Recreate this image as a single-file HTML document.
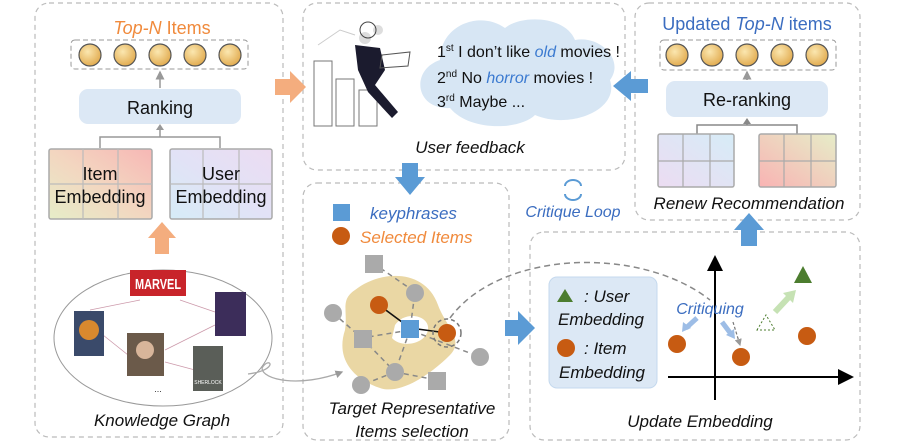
<!DOCTYPE html>
<html><head><meta charset="utf-8"><style>
html,body{margin:0;padding:0;background:#fff;width:897px;height:444px;overflow:hidden}
svg{display:block}
text{font-family:"Liberation Sans","DejaVu Sans",sans-serif}
.it{font-style:italic}
</style></head><body>
<svg width="897" height="444" viewBox="0 0 897 444" xmlns="http://www.w3.org/2000/svg">
<defs>
<radialGradient id="gold" cx="40%" cy="35%" r="70%"><stop offset="0" stop-color="#fbe7b0"/><stop offset="1" stop-color="#e0a84a"/></radialGradient>
<linearGradient id="gItem" x1="0" y1="1" x2="1" y2="0"><stop offset="0" stop-color="#e6edc8"/><stop offset="0.5" stop-color="#f3d6c0"/><stop offset="1" stop-color="#f7b7b5"/></linearGradient>
<linearGradient id="gUser" x1="0" y1="1" x2="1" y2="0"><stop offset="0" stop-color="#d6ecf7"/><stop offset="0.5" stop-color="#e2e2f6"/><stop offset="1" stop-color="#ecdcf2"/></linearGradient>
<linearGradient id="gUser2" x1="0" y1="1" x2="1" y2="0"><stop offset="0" stop-color="#ecdcf2"/><stop offset="1" stop-color="#d6ecf7"/></linearGradient>
<linearGradient id="gItem2" x1="0" y1="1" x2="1" y2="0"><stop offset="0" stop-color="#f9b3b3"/><stop offset="1" stop-color="#e6edc8"/></linearGradient>
<marker id="ah" markerWidth="6" markerHeight="6" refX="5" refY="3" orient="auto"><path d="M0,0 L6,3 L0,6z" fill="#999"/></marker>
<marker id="ahk" markerWidth="8" markerHeight="8" refX="7" refY="4" orient="auto"><path d="M0,0 L8,4 L0,8z" fill="#000"/></marker>
</defs>

<g fill="none" stroke="#bbb" stroke-dasharray="5,4" stroke-width="1.2">
<rect x="35" y="3" width="248" height="434" rx="14"/>
<rect x="303" y="3" width="322" height="167" rx="14"/>
<rect x="303" y="183" width="206" height="257" rx="14"/>
<rect x="635" y="3" width="225" height="217" rx="14"/>
<rect x="530" y="232" width="330" height="208" rx="14"/>
</g>

<text x="162" y="34" font-size="18" fill="#f08a3c" text-anchor="middle" class="it">Top-N<tspan font-style="normal"> Items</tspan></text>
<rect x="71" y="40" width="177" height="29" rx="4" fill="none" stroke="#999" stroke-dasharray="5,3"/>
<g fill="url(#gold)" stroke="#555" stroke-width="1.2">
<circle cx="90" cy="55" r="11"/><circle cx="125" cy="55" r="11"/><circle cx="160" cy="55" r="11"/><circle cx="195" cy="55" r="11"/><circle cx="230" cy="55" r="11"/></g>
<line x1="160" y1="88" x2="160" y2="72" stroke="#999" stroke-width="1.5" marker-end="url(#ah)"/>
<rect x="79" y="89" width="162" height="35" rx="9" fill="#dce8f5"/>
<text x="160" y="114" font-size="18" text-anchor="middle" fill="#111">Ranking</text>
<path d="M100 148 V137 H220 V148 M160 137 V126" fill="none" stroke="#999" stroke-width="1.5"/>
<path d="M156 130 L160 124 L164 130z" fill="#999"/>
<rect x="49" y="149" width="103" height="70" rx="2" fill="url(#gItem)" stroke="#aaa" stroke-width="1.5"/>
<path d="M49 184 H152 M83 149 V219 M118 149 V219" stroke="#bbb" stroke-width="1.2"/>
<rect x="170" y="149" width="102" height="70" rx="2" fill="url(#gUser)" stroke="#aaa" stroke-width="1.5"/>
<path d="M170 184 H272 M203 149 V219 M239 149 V219" stroke="#bbb" stroke-width="1.2"/>
<text x="100" y="180" font-size="18" text-anchor="middle" fill="#111">Item</text>
<text x="100" y="203" font-size="18" text-anchor="middle" fill="#111">Embedding</text>
<text x="221" y="180" font-size="18" text-anchor="middle" fill="#111">User</text>
<text x="221" y="203" font-size="18" text-anchor="middle" fill="#111">Embedding</text>
<path d="M155 254 V238 H148 L162 222 L176 238 H169 V254z" fill="#f4ad7e"/>
<ellipse cx="163" cy="338" rx="109" ry="68" fill="none" stroke="#999" stroke-width="1"/>
<rect x="130" y="270" width="56" height="26" fill="#c8242a"/>
<text x="158" y="289" font-size="15" font-weight="bold" fill="#fff" text-anchor="middle" textLength="46" lengthAdjust="spacingAndGlyphs">MARVEL</text>
<path d="M90 310 L140 300 M180 300 L215 312 M103 335 L128 355 M165 350 L215 325 M165 362 L195 370" stroke="#c9a" stroke-width="0.8"/>
<rect x="74" y="311" width="30" height="45" fill="#3a4a6a"/>
<circle cx="89" cy="330" r="10" fill="#d9892e"/>
<rect x="215" y="292" width="31" height="44" fill="#3c2d5a"/>
<rect x="127" y="333" width="37" height="43" fill="#6b5a4a"/>
<circle cx="145" cy="350" r="9" fill="#d8b59a"/>
<rect x="193" y="346" width="30" height="45" fill="#5a5e58"/>
<text x="208" y="384" font-size="5" fill="#fff" text-anchor="middle">SHERLOCK</text>
<text x="158" y="392" font-size="9" fill="#333" text-anchor="middle">...</text>
<text x="162" y="426" font-size="17" text-anchor="middle" class="it" fill="#111">Knowledge Graph</text>
<path d="M248 374 C280 370 270 355 262 368 C262 380 300 388 342 372" fill="none" stroke="#aaa" stroke-width="1.3" marker-end="url(#ah)"/>

<path d="M275 79 H290 V71 L306 87 L290 103 V95 H275z" fill="#f4ad7e"/>

<g fill="none" stroke="#777" stroke-width="1">
<rect x="314" y="61" width="18" height="65"/><rect x="336" y="79" width="18" height="47"/><rect x="359" y="90" width="18" height="36"/>
<path d="M318 45 L340 30 L355 35" stroke="#ccc"/>
</g>
<circle cx="365" cy="38" r="6" fill="#ddd"/><circle cx="378" cy="30" r="5" fill="#ddd"/>
<circle cx="368" cy="30" r="8" fill="none" stroke="#444"/>
<path d="M355 45 L380 48 L385 70 L375 85 L398 112 L392 118 L368 92 L358 70z" fill="#1b1b2e"/>
<path d="M382 55 L410 52 L408 66 L380 68z" fill="none" stroke="#555"/>
<path d="M440 60 C410 70 415 110 450 108 C470 132 520 130 535 115 C570 130 620 110 610 80 C625 60 600 35 575 40 C565 15 520 15 505 28 C480 10 440 25 440 60z" fill="#d7e6f4"/>
<text x="437" y="57" font-size="16" fill="#111">1<tspan font-size="10" dy="-6">st</tspan><tspan dy="6"> I don’t like </tspan><tspan fill="#3b7ad0" font-style="italic">old</tspan> movies !</text>
<text x="437" y="83" font-size="16" fill="#111">2<tspan font-size="10" dy="-6">nd</tspan><tspan dy="6"> No </tspan><tspan fill="#3b7ad0" font-style="italic">horror</tspan> movies !</text>
<text x="437" y="107" font-size="16" fill="#111">3<tspan font-size="10" dy="-6">rd</tspan><tspan dy="6"> Maybe ...</tspan></text>
<text x="470" y="153" font-size="17" text-anchor="middle" class="it" fill="#111">User feedback</text>

<path d="M402 163 H418 V177 H425 L410 195 L395 177 H402z" fill="#5b9bd5"/>

<rect x="333" y="204" width="17" height="17" fill="#5b9bd5"/>
<text x="370" y="219" font-size="17" class="it" fill="#3b6dc0">keyphrases</text>
<circle cx="341" cy="236" r="9" fill="#c75b12"/>
<text x="360" y="243" font-size="17" class="it" fill="#f08a3c">Selected Items</text>
<path d="M355 290 C380 270 425 268 438 305 C445 325 465 340 450 355 C430 375 400 395 380 388 C355 380 335 360 345 330 C348 310 340 300 355 290z" fill="#ead7a4"/>
<path d="M395 325 C405 310 430 315 428 330 C425 345 400 348 392 338z" fill="#fff"/>
<g stroke="#888" stroke-width="1.5" stroke-dasharray="5,4" fill="none">
<path d="M373 263 L415 292 L410 330 M333 313 L362 338 L410 330 L480 357 M410 330 L395 372 L362 385 M395 372 L437 380 M362 338 L395 372"/>
</g>
<path d="M379 305 L410 328 M410 328 L447 333" stroke="#111" stroke-width="1.6"/>
<g fill="#aaa">
<rect x="365" y="255" width="18" height="18"/><circle cx="415" cy="293" r="9"/><circle cx="333" cy="313" r="9"/><rect x="354" y="330" width="18" height="18"/><circle cx="480" cy="357" r="9"/><circle cx="395" cy="372" r="9"/><rect x="428" y="372" width="18" height="18"/><circle cx="361" cy="385" r="9"/>
</g>
<circle cx="379" cy="305" r="9" fill="#c75b12"/>
<rect x="401" y="320" width="18" height="18" fill="#5b9bd5"/>
<circle cx="447" cy="333" r="9" fill="#c75b12"/>
<circle cx="447" cy="333" r="14" fill="none" stroke="#777" stroke-width="1.5" stroke-dasharray="4,3"/>
<text x="412" y="414" font-size="17" text-anchor="middle" class="it" fill="#111">Target Representative</text>
<text x="412" y="437" font-size="17" text-anchor="middle" class="it" fill="#111">Items selection</text>
<path d="M505 320 H518 V311 L535 328 L518 345 V336 H505z" fill="#5b9bd5"/>
<path d="M450 318 C500 250 640 245 710 300" fill="none" stroke="#888" stroke-width="1.5" stroke-dasharray="6,4"/>

<path d="M565 186 A8 6 0 0 1 581 186" fill="none" stroke="#5b9bd5" stroke-width="2"/>
<path d="M581 194 A8 6 0 0 1 565 194" fill="none" stroke="#5b9bd5" stroke-width="2"/>
<text x="573" y="217" font-size="16" text-anchor="middle" class="it" fill="#3b6dc0">Critique Loop</text>

<path d="M648 79 H631 V71 L613 86 L631 101 V93 H648z" fill="#5b9bd5"/>

<text x="747" y="30" font-size="18" text-anchor="middle" fill="#3b6dc0">Updated <tspan font-style="italic">Top-N</tspan> items</text>
<rect x="660" y="40" width="176" height="30" rx="4" fill="none" stroke="#999" stroke-dasharray="5,3"/>
<g fill="url(#gold)" stroke="#555" stroke-width="1.2">
<circle cx="677" cy="55" r="11"/><circle cx="712" cy="55" r="11"/><circle cx="747" cy="55" r="11"/><circle cx="782" cy="55" r="11"/><circle cx="817" cy="55" r="11"/></g>
<line x1="747" y1="80" x2="747" y2="72" stroke="#888" stroke-width="1.5" marker-end="url(#ah)"/>
<rect x="666" y="81" width="162" height="36" rx="9" fill="#dce8f5"/>
<text x="747" y="106" font-size="18" text-anchor="middle" fill="#111">Re-ranking</text>
<path d="M697 134 V125 H797 V134 M747 125 V119" fill="none" stroke="#888" stroke-width="1.5"/>
<path d="M743 124 L747 118 L751 124z" fill="#888"/>
<rect x="658" y="134" width="76" height="53" rx="2" fill="url(#gUser2)" stroke="#aaa" stroke-width="1.5"/>
<path d="M658 161 H734 M683 134 V187 M710 134 V187" stroke="#aaa" stroke-width="1.2"/>
<rect x="759" y="134" width="77" height="53" rx="2" fill="url(#gItem2)" stroke="#aaa" stroke-width="1.5"/>
<path d="M759 161 H836 M784 134 V187 M811 134 V187" stroke="#aaa" stroke-width="1.2"/>
<text x="749" y="209" font-size="17" text-anchor="middle" class="it" fill="#111">Renew Recommendation</text>
<path d="M741 246 V230 H734 L749 213 L764 230 H757 V246z" fill="#5b9bd5"/>

<rect x="549" y="277" width="108" height="111" rx="8" fill="#dce8f5" stroke="#c5d9ee"/>
<path d="M557 302 L565 289 L573 302z" fill="#4c7d2f"/>
<text x="584" y="302" font-size="17" class="it" fill="#111">: User</text>
<text x="558" y="325" font-size="17" class="it" fill="#111">Embedding</text>
<circle cx="566" cy="348" r="9" fill="#c75b12"/>
<text x="584" y="354" font-size="17" class="it" fill="#111">: Item</text>
<text x="559" y="378" font-size="17" class="it" fill="#111">Embedding</text>
<line x1="715" y1="400" x2="715" y2="257" stroke="#000" stroke-width="2" marker-end="url(#ahk)"/>
<line x1="668" y1="377" x2="852" y2="377" stroke="#000" stroke-width="2" marker-end="url(#ahk)"/>
<text x="710" y="314" font-size="16" text-anchor="middle" class="it" fill="#3b6dc0">Critiquing</text>
<path d="M697 318 L686 328" stroke="#9dbde6" stroke-width="5"/><path d="M682 332 L683 322 L691 328z" fill="#9dbde6"/>
<path d="M722 322 L731 334" stroke="#9dbde6" stroke-width="5"/><path d="M735 339 L726 335 L734 329z" fill="#9dbde6"/>
<path d="M733 322 L740 345" stroke="#777" stroke-dasharray="3,2" fill="none" stroke-width="1.2" marker-end="url(#ah)"/>
<circle cx="677" cy="344" r="9" fill="#c75b12"/>
<circle cx="741" cy="357" r="9" fill="#c75b12"/>
<circle cx="807" cy="336" r="9" fill="#c75b12"/>
<path d="M757 330 L766 315 L775 330z" fill="none" stroke="#4c7d2f" stroke-dasharray="2,2"/>
<path d="M775 312 L789 297" stroke="#c6e2b4" stroke-width="6"/><path d="M796 290 L793 303 L783 293z" fill="#c6e2b4"/>
<path d="M794 283 L803 266 L812 283z" fill="#4c7d2f"/>
<text x="700" y="427" font-size="17" text-anchor="middle" class="it" fill="#111">Update Embedding</text>
</svg>
</body></html>
